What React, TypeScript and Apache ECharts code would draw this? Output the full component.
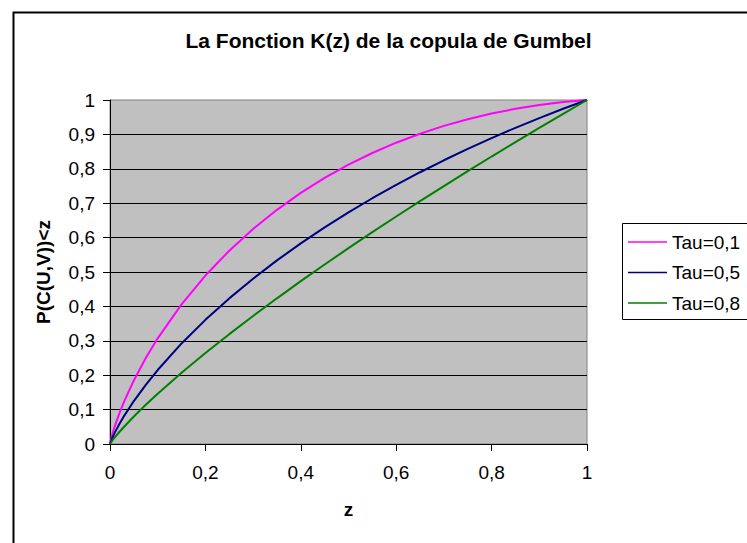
import React, { useEffect, useRef } from "react";
import * as echarts from "echarts";

const titleText = "La Fonction K(z) de la copula de Gumbel";
const xName = "z";
const yName = "P(C(U,V))<z";
const seriesNames = ["Tau=0,1", "Tau=0,5", "Tau=0,8"];
const seriesColors = ["#FF00FF", "#000080", "#008000"];

const zValues = [0, 0.005, 0.01, 0.02, 0.03, 0.05, 0.075, 0.1, 0.15, 0.2, 0.25, 0.3, 0.35, 0.4, 0.45, 0.5, 0.55, 0.6, 0.65, 0.7, 0.75, 0.8, 0.85, 0.9, 0.95, 1];
const kTau01 = [0, 0.0288, 0.0514, 0.0904, 0.1247, 0.1848, 0.2498, 0.3072, 0.4061, 0.4897, 0.5619, 0.6251, 0.6807, 0.7299, 0.7734, 0.8119, 0.8459, 0.8759, 0.902, 0.9247, 0.9442, 0.9607, 0.9743, 0.9853, 0.9939, 1];
const kTau05 = [0, 0.0182, 0.033, 0.0591, 0.0826, 0.1249, 0.1721, 0.2151, 0.2923, 0.3609, 0.4233, 0.4806, 0.5337, 0.5833, 0.6297, 0.6733, 0.7144, 0.7533, 0.79, 0.8248, 0.8579, 0.8893, 0.9191, 0.9474, 0.9744, 1];
const kTau08 = [0, 0.0103, 0.0192, 0.0356, 0.051, 0.08, 0.1139, 0.1461, 0.2069, 0.2644, 0.3193, 0.3722, 0.4235, 0.4733, 0.5219, 0.5693, 0.6158, 0.6613, 0.706, 0.7499, 0.7932, 0.8357, 0.8776, 0.919, 0.9597, 1];

const FONT = "'Liberation Sans', Arial, sans-serif";

const fmt = (v: number) => String(Math.round(v * 10) / 10).replace(".", ",");

export default function App() {
  const ref = useRef<HTMLDivElement>(null);
  useEffect(() => {
    if (!ref.current) return;
    const chart = echarts.init(ref.current, null, { renderer: "svg" });
    const allK = [kTau01, kTau05, kTau08];
    chart.setOption({
      animation: false,
      backgroundColor: "#FFFFFF",
      textStyle: { fontFamily: FONT },
      title: {
        text: titleText,
        left: 383.5,
        top: 25,
        textAlign: "center",
        textStyle: { fontFamily: FONT, fontWeight: "bold", fontSize: 21, color: "#000" },
      },
      grid: {
        left: 110,
        top: 100,
        right: 160,
        bottom: 99,
        show: true,
        backgroundColor: "#C0C0C0",
        borderColor: "#808080",
        borderWidth: 1,
      },
      legend: {
        orient: "vertical",
        left: 623,
        top: 227,
        itemWidth: 39,
        itemHeight: 1.5,
        itemGap: 10.5,
        icon: "rect",
        data: seriesNames,
        textStyle: { fontFamily: FONT, fontSize: 19, color: "#000", lineHeight: 20 },
      },
      xAxis: {
        type: "value",
        min: 0,
        max: 1,
        interval: 0.2,
        name: xName,
        nameLocation: "middle",
        nameGap: 56,
        nameTextStyle: { fontFamily: FONT, fontWeight: "bold", fontSize: 19, color: "#000" },
        axisLine: { show: true, onZero: false, lineStyle: { color: "#000", width: 1 } },
        axisTick: { show: true, length: 7, lineStyle: { color: "#000" } },
        axisLabel: { formatter: fmt, margin: 19, fontFamily: FONT, fontSize: 19, color: "#000" },
        splitLine: { show: false },
      },
      yAxis: {
        type: "value",
        min: 0,
        max: 1,
        interval: 0.1,
        name: yName,
        nameLocation: "middle",
        nameGap: 57,
        nameTextStyle: { fontFamily: FONT, fontWeight: "bold", fontSize: 19, color: "#000" },
        axisLine: { show: true, onZero: false, lineStyle: { color: "#000", width: 1 } },
        axisTick: { show: true, length: 7, lineStyle: { color: "#000" } },
        axisLabel: { formatter: fmt, margin: 15, fontFamily: FONT, fontSize: 19, color: "#000" },
        splitLine: { show: true, showMinLine: false, showMaxLine: false, lineStyle: { color: "#000", width: 1 } },
      },
      graphic: [
        {
          type: "rect",
          left: 11,
          top: 10,
          shape: { x: 0, y: 0, width: 800, height: 600 },
          style: { fill: "none", stroke: "#000", lineWidth: 2 },
          silent: true,
          z: 100,
        },
        {
          type: "rect",
          shape: { x: 622.5, y: 223.5, width: 200, height: 96 },
          style: { fill: "none", stroke: "#000", lineWidth: 1 },
          silent: true,
          z: 100,
        },
      ],
      series: seriesNames.map((name, i) => ({
        name,
        type: "line",
        symbol: "none",
        smooth: false,
        color: seriesColors[i],
        lineStyle: { color: seriesColors[i], width: 2 },
        data: zValues.map((z, j) => [z, allK[i][j]]),
      })),
    });
    return () => chart.dispose();
  }, []);
  return (
    <div
      ref={ref}
      style={{ position: "fixed", left: 0, top: 0, width: 747, height: 543, background: "#fff" }}
    />
  );
}
